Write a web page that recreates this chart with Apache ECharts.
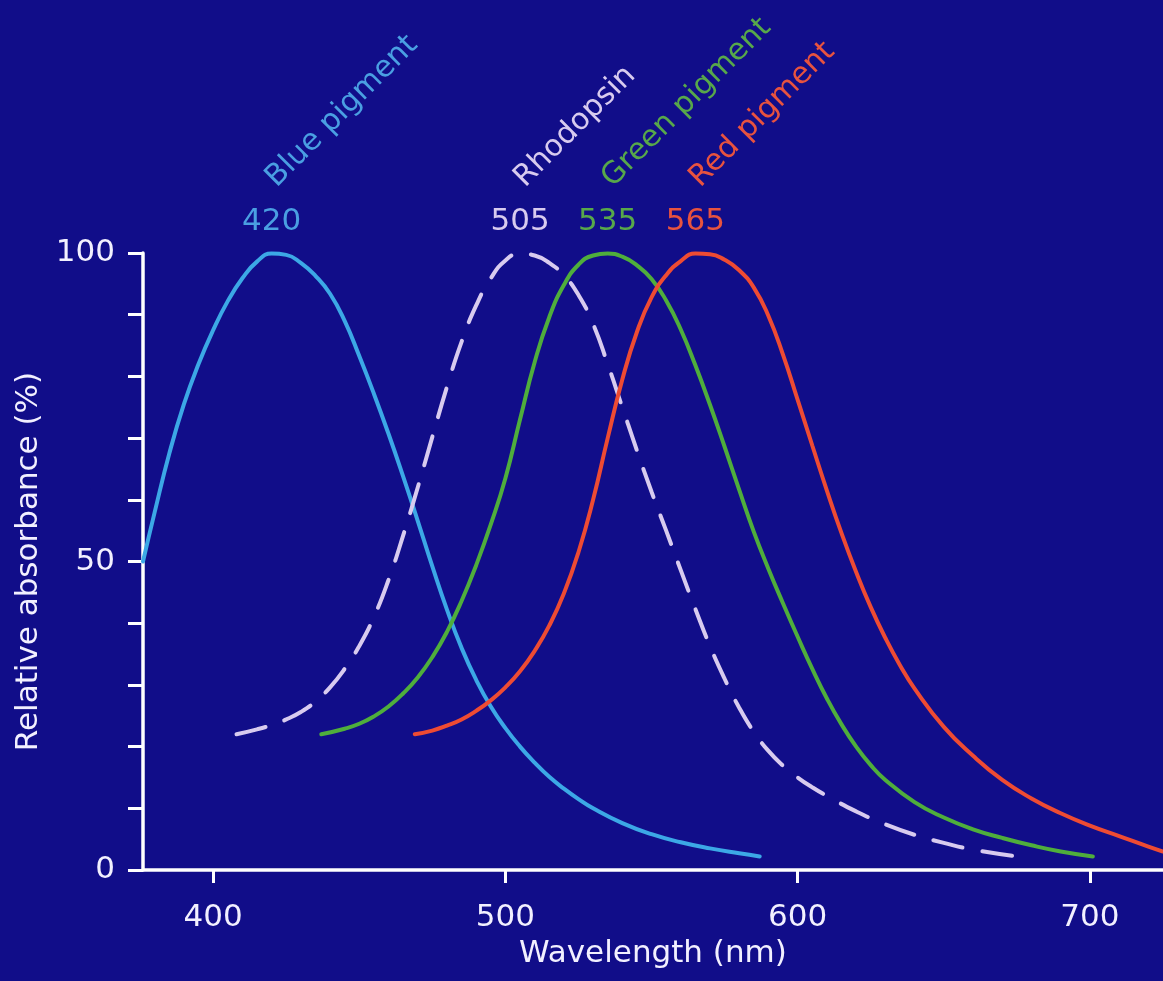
<!DOCTYPE html>
<html>
<head>
<meta charset="utf-8">
<style>
  html, body { margin: 0; padding: 0; background: #110d89; }
  #main { width: 1163px; height: 981px; }
</style>
<script src="https://cdn.jsdelivr.net/npm/echarts@6.0.0/dist/echarts.min.js"></script>
</head>
<body>
<div id="main"></div>
<script>
// absorbance curves, [wavelength nm, relative absorbance %]
var blueData = [
  [376, 50], [380, 58], [385, 67.5], [390, 75.5], [395, 82], [400, 87.5], [405, 92.2],
  [410, 95.9], [415, 98.6], [420, 99.9], [425, 99.7], [430, 98.4], [435, 96.3], [440, 93.4],
  [445, 89], [450, 83.3], [455, 77.2], [460, 70.7], [465, 63.8], [470, 56.6], [475, 49.2],
  [480, 42.2], [485, 36], [490, 30.8], [495, 26.5], [500, 23], [505, 20], [510, 17.4],
  [515, 15.1], [520, 13.2], [525, 11.5], [530, 10], [540, 7.6], [550, 5.8], [560, 4.5],
  [570, 3.5], [580, 2.7], [587, 2.2]
];
var rhodopsinData = [
  [408, 22], [415, 22.8], [420, 23.5], [425, 24.4], [430, 25.6], [435, 27.3], [440, 29.6],
  [445, 32.6], [450, 36.3], [455, 41], [460, 47], [465, 54.2], [470, 62], [475, 70.2],
  [480, 78.3], [485, 85.6], [490, 91.5], [495, 95.9], [500, 98.8], [505, 99.9], [510, 99.6],
  [515, 98.4], [520, 96.4], [525, 93.2], [530, 88.5], [535, 82], [540, 75], [545, 68],
  [550, 61.3], [555, 55], [560, 48.6], [565, 42.3], [570, 36.3], [575, 31], [580, 26.3],
  [585, 22.4], [590, 19.3], [595, 16.9], [600, 15], [605, 13.4], [610, 12], [620, 9.5],
  [630, 7.4], [640, 5.7], [650, 4.4], [660, 3.3], [675, 2.2]
];
var greenData = [
  [437, 22], [445, 22.9], [450, 23.7], [455, 24.9], [460, 26.5], [465, 28.6], [470, 31.2],
  [475, 34.5], [480, 38.6], [485, 43.6], [490, 49.4], [495, 56], [500, 63.5], [505, 73],
  [510, 82.3], [515, 89.6], [520, 94.8], [525, 98.1], [530, 99.6], [535, 99.9], [540, 99.4],
  [545, 98], [550, 95.8], [555, 92.3], [560, 87.6], [565, 81.8], [570, 75.4], [575, 68.6],
  [580, 61.6], [585, 54.8], [590, 48.8], [595, 43.2], [600, 37.8], [605, 32.6], [610, 27.8],
  [615, 23.6], [620, 20], [625, 17], [630, 14.6], [640, 11], [650, 8.5], [660, 6.6],
  [670, 5.2], [680, 4], [690, 3], [701, 2.2]
];
var redData = [
  [469, 22], [475, 22.6], [480, 23.4], [485, 24.4], [490, 25.8], [495, 27.5], [500, 29.6],
  [505, 32.2], [510, 35.5], [515, 39.6], [520, 44.8], [525, 51.5], [530, 60], [535, 70],
  [540, 79.5], [545, 87.2], [550, 92.8], [555, 96.4], [560, 98.7], [565, 99.9], [570, 99.8],
  [575, 98.9], [580, 97.2], [585, 94.4], [590, 89.8], [595, 83.5], [600, 76.2], [605, 68.8],
  [610, 61.5], [615, 54.6], [620, 48.3], [625, 42.6], [630, 37.6], [635, 33.2], [640, 29.4],
  [650, 23.2], [660, 18.5], [670, 14.6], [680, 11.6], [690, 9.2], [700, 7.2], [710, 5.5],
  [720, 3.8], [725, 3]
];

var pigmentNames = ['Blue pigment', 'Rhodopsin', 'Green pigment', 'Red pigment'];
var peakNm = [420, 505, 535, 565];
var xTicks = [400, 500, 600, 700];
var yLabels = [0, 50, 100];

var lineColors = ['#3ca8e6', '#d8cbef', '#4fae3c', '#ee4b33'];
var textColors = ['#4a9fe2', '#d8cbef', '#58a84a', '#e8533f'];
var FONT = '"DejaVu Sans", sans-serif';

var myChart = echarts.init(document.getElementById('main'));

function makeSeries(i, data, dashed) {
  return {
    name: pigmentNames[i],
    type: 'line',
    data: data,
    smooth: 0.5,
    showSymbol: false,
    lineStyle: {
      color: lineColors[i],
      width: 4,
      cap: 'round',
      type: dashed ? [30, 20] : 'solid'
    },
    markPoint: {
      symbol: 'circle',
      symbolSize: 0,
      data: [
        {
          coord: [peakNm[i], 100],
          label: {
            show: true,
            formatter: String(peakNm[i]),
            position: [0, -16],
            align: 'center',
            verticalAlign: 'bottom',
            color: textColors[i],
            fontFamily: FONT,
            fontSize: 31
          }
        },
        {
          coord: [peakNm[i], 100],
          label: {
            show: true,
            formatter: pigmentNames[i],
            position: [10, -60],
            rotate: 45,
            align: 'left',
            verticalAlign: 'bottom',
            color: textColors[i],
            fontFamily: FONT,
            fontSize: 30
          }
        }
      ]
    }
  };
}

var option = {
  backgroundColor: '#110d89',
  animation: false,
  grid: { left: 143, right: 0, top: 253, bottom: 111 },
  xAxis: {
    type: 'value',
    min: 376,
    max: 725,
    name: 'Wavelength (nm)',
    nameLocation: 'middle',
    nameGap: 68,
    nameTextStyle: { color: '#f2f0ff', fontSize: 31, fontFamily: FONT },
    axisLine: { show: true, lineStyle: { color: '#ffffff', width: 3.5 } },
    axisTick: { show: true, length: 13, customValues: xTicks, lineStyle: { color: '#ffffff', width: 3 } },
    axisLabel: { customValues: xTicks, margin: 32, color: '#f2f0ff', fontSize: 31, fontFamily: FONT },
    splitLine: { show: false }
  },
  yAxis: {
    type: 'value',
    min: 0,
    max: 100,
    interval: 10,
    name: 'Relative absorbance (%)',
    nameLocation: 'middle',
    nameGap: 72,
    nameRotate: 90,
    nameTextStyle: { color: '#f2f0ff', fontSize: 31, fontFamily: FONT },
    axisLine: { show: true, lineStyle: { color: '#ffffff', width: 3.5 } },
    axisTick: { show: true, length: 15, lineStyle: { color: '#ffffff', width: 3 } },
    axisLabel: { customValues: yLabels, margin: 28, color: '#f2f0ff', fontSize: 31, fontFamily: FONT },
    splitLine: { show: false }
  },
  series: [
    makeSeries(0, blueData, false),
    makeSeries(1, rhodopsinData, true),
    makeSeries(2, greenData, false),
    makeSeries(3, redData, false)
  ]
};
myChart.setOption(option);
</script>
</body>
</html>
